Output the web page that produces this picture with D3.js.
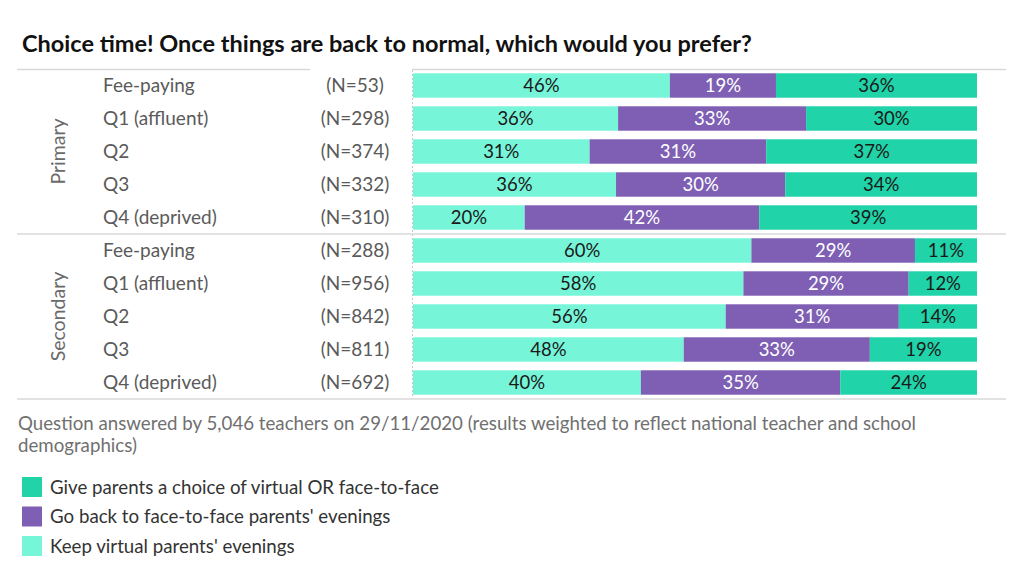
<!DOCTYPE html>
<html lang="en">
<head>
    <meta charset="UTF-8">
    <title>Choice time</title>
    <script src="https://d3js.org/d3.v7.min.js"></script>
    <style>
        body { margin: 0; background: #fff; }
        text { font-family: Lato, "Noto Sans", sans-serif; }
    </style>
</head>
<body>
    <script>
        // data
        const groups = ["Primary", "Secondary"];
        const categories = ["Fee-paying", "Q1 (affluent)", "Q2", "Q3", "Q4 (deprived)"];
        const nPrimary = [53, 298, 374, 332, 310];
        const nSecondary = [288, 956, 842, 811, 692];
        const keepVirtual = [46, 36, 31, 36, 20, 60, 58, 56, 48, 40];
        const faceToFace = [19, 33, 31, 30, 42, 29, 29, 31, 33, 35];
        const giveChoice = [36, 30, 37, 34, 39, 11, 12, 14, 19, 24];
        const seriesNames = ["Keep virtual parents' evenings",
                             "Go back to face-to-face parents' evenings",
                             "Give parents a choice of virtual OR face-to-face"];
        const colors = ["#76f5d8", "#7e5fb4", "#20d3a8"];

        const w = 1024, h = 585;

        const rows = [];
        groups.forEach((g, gi) => {
            categories.forEach((c, ci) => {
                const i = gi * categories.length + ci;
                rows.push({
                    id: i, group: g, cat: c,
                    n: (gi === 0 ? nPrimary : nSecondary)[ci],
                    keep: keepVirtual[i], f2f: faceToFace[i], choice: giveChoice[i]
                });
            });
        });

        const svg = d3.select("body").append("svg")
            .attr("width", w).attr("height", h);

        svg.append("text")
            .attr("x", 22).attr("y", 52)
            .attr("font-size", 23.5).attr("font-weight", "bold").attr("fill", "#111")
            .text("Choice time! Once things are back to normal, which would you prefer?");

        const x = d3.scaleLinear().domain([0, 1]).range([413, 977]);
        const y = d3.scaleBand().domain(rows.map(d => d.id)).range([69, 399]).paddingInner(0.26).paddingOuter(0.13);

        const stack = d3.stack().keys(["keep", "f2f", "choice"]).offset(d3.stackOffsetExpand);
        const layers = stack(rows);

        // rules
        const lineColor = "#d9d9d9";
        svg.append("line").attr("x1", 17).attr("x2", 310).attr("y1", 69.5).attr("y2", 69.5)
            .attr("stroke", lineColor).attr("stroke-width", 1.5);
        svg.append("line").attr("x1", 412).attr("x2", 1006).attr("y1", 69.5).attr("y2", 69.5)
            .attr("stroke", lineColor).attr("stroke-width", 1.5);
        const sepY = (y(4) + y.bandwidth() + y(5)) / 2;
        [sepY, 399].forEach(yy => {
            svg.append("line").attr("x1", 17).attr("x2", 1006).attr("y1", yy).attr("y2", yy)
                .attr("stroke", lineColor).attr("stroke-width", 1.5);
        });
        svg.append("line").attr("x1", 412.5).attr("x2", 412.5).attr("y1", 70).attr("y2", 398)
            .attr("stroke", "#c8c8c8").attr("stroke-dasharray", "2,2");

        // bars
        const layerG = svg.selectAll(".layer").data(layers).enter().append("g")
            .attr("fill", (d, i) => colors[i]);
        layerG.selectAll("rect").data(d => d).enter().append("rect")
            .attr("x", d => x(d[0]))
            .attr("y", d => y(d.data.id))
            .attr("width", d => x(d[1]) - x(d[0]))
            .attr("height", y.bandwidth());

        layerG.selectAll("text").data(d => d.map(v => ({v: v, key: d.key}))).enter().append("text")
            .attr("x", d => (x(d.v[0]) + x(d.v[1])) / 2)
            .attr("y", d => y(d.v.data.id) + y.bandwidth() / 2 + 6.5)
            .attr("text-anchor", "middle").attr("font-size", 18.5)
            .attr("fill", d => d.key === "f2f" ? "#fff" : "#1a1a1a")
            .text(d => d.v.data[d.key] + "%");

        // row labels
        svg.selectAll(".cat").data(rows).enter().append("text")
            .attr("x", 103).attr("y", d => y(d.id) + y.bandwidth() / 2 + 6.5)
            .attr("font-size", 19).attr("fill", "#5a5a5a")
            .text(d => d.cat);
        svg.selectAll(".n").data(rows).enter().append("text")
            .attr("x", 355).attr("y", d => y(d.id) + y.bandwidth() / 2 + 6.5)
            .attr("text-anchor", "middle").attr("font-size", 19).attr("fill", "#5a5a5a")
            .text(d => "(N=" + d.n + ")");

        groups.forEach((g, gi) => {
            const ids = rows.filter(r => r.group === g).map(r => r.id);
            const cy = (y(ids[0]) + y(ids[ids.length - 1]) + y.bandwidth()) / 2;
            svg.append("text")
                .attr("transform", "translate(65," + cy + ") rotate(-90)")
                .attr("text-anchor", "middle").attr("font-size", 19.5).attr("fill", "#6a6a6a")
                .text(g);
        });

        // note
        const note = "Question answered by 5,046 teachers on 29/11/2020 (results weighted to reflect national teacher and school demographics)";
        const noteText = svg.append("text").attr("x", 18).attr("y", 430)
            .attr("font-size", 18.7).attr("fill", "#707070");
        let line = [];
        let tspan = noteText.append("tspan").attr("x", 18).attr("dy", 0);
        note.split(" ").forEach(word => {
            line.push(word);
            tspan.text(line.join(" "));
            if (tspan.node().getComputedTextLength() > 910 && line.length > 1) {
                line.pop();
                tspan.text(line.join(" "));
                line = [word];
                tspan = noteText.append("tspan").attr("x", 18).attr("dy", 22).text(word);
            }
        });

        // legend
        const legendOrder = [2, 1, 0];
        const leg = svg.selectAll(".leg").data(legendOrder).enter().append("g")
            .attr("transform", (d, i) => "translate(22," + (477 + i * 29.5) + ")");
        leg.append("rect").attr("width", 20).attr("height", 20).attr("fill", d => colors[d]);
        leg.append("text").attr("x", 28).attr("y", 16.5).attr("font-size", 18.7).attr("fill", "#333")
            .text(d => seriesNames[d]);
    </script>
</body>
</html>
